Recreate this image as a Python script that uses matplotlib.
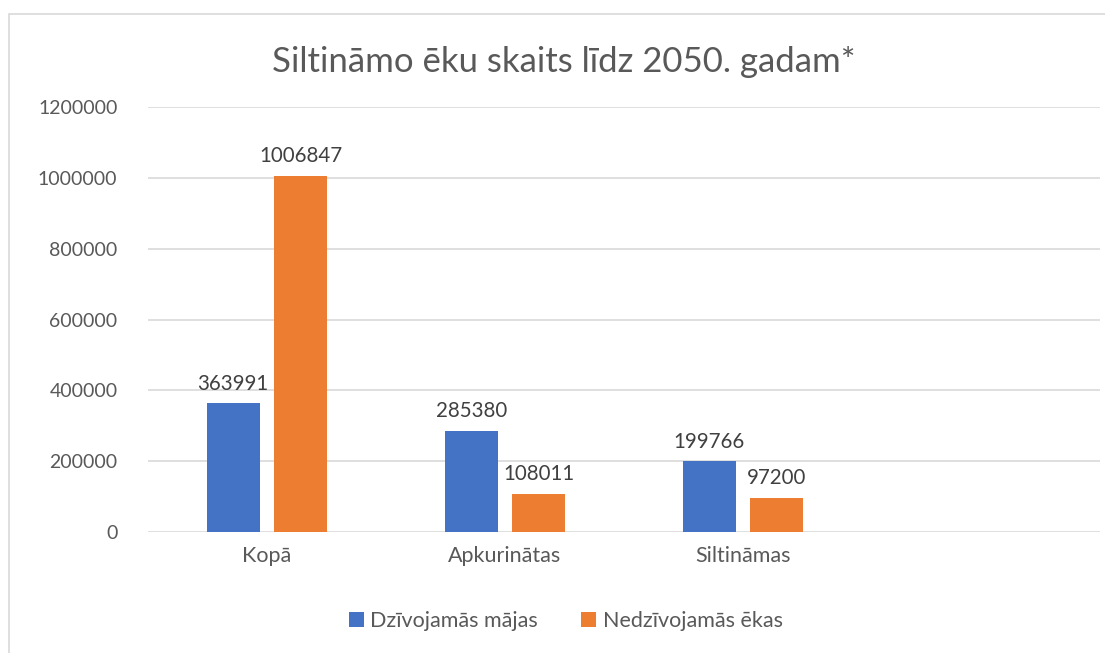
import numpy as np
import matplotlib.pyplot as plt
from matplotlib.patches import Rectangle

plt.rcParams['font.family'] = ['Lato', 'DejaVu Sans']

categories = ['Kopā', 'Apkurinātas', 'Siltināmas', '']
dzivojamas = [363991, 285380, 199766]
nedzivojamas = [1006847, 108011, 97200]
series_names = ['Dzīvojamās mājas', 'Nedzīvojamās ēkas']
yticks = [0, 200000, 400000, 600000, 800000, 1000000, 1200000]

blue = '#4472C4'
orange = '#ED7D31'
txt = '#595959'

fig = plt.figure(figsize=(11.05, 6.53), dpi=100)
ax = fig.add_axes([148/1105, 0.185, 952/1105, 0.651])

# light frame around the chart
fig.patches.append(Rectangle((9/1105, -0.1), 1.2, 1 - 14/653 + 0.1, transform=fig.transFigure,
                             fill=False, edgecolor='#d9d9d9', linewidth=1.2))

x = np.arange(len(dzivojamas))
w = 0.223
off = 0.142
b1 = ax.bar(x - off, dzivojamas, w, color=blue, label=series_names[0], zorder=3)
b2 = ax.bar(x + off, nedzivojamas, w, color=orange, label=series_names[1], zorder=3)

for bars in (b1, b2):
    for r in bars:
        ax.annotate(str(int(r.get_height())), (r.get_x() + r.get_width()/2, r.get_height()),
                    xytext=(0, 7), textcoords='offset points', ha='center', va='bottom',
                    fontsize=14.8, color='#404040')

ax.set_xlim(-0.5, 3.5)
ax.set_ylim(0, 1200000)
ax.set_yticks(yticks)
ax.set_yticklabels([str(v) for v in yticks])
ax.set_xticks(np.arange(len(categories)))
ax.set_xticklabels(categories)
ax.tick_params(axis='both', length=0, colors=txt)
ax.tick_params(axis='y', pad=22, labelsize=14)
ax.tick_params(axis='x', pad=10, labelsize=15.5)
ax.grid(axis='y', color='#d9d9d9', linewidth=1.2, zorder=0)
for s in ax.spines.values():
    s.set_visible(False)

fig.text(0.51, 0.905, 'Siltināmo ēku skaits līdz 2050. gadam*', ha='center', va='center',
         fontsize=25, color=txt)

fig.legend(handles=[b1, b2], loc='center', bbox_to_anchor=(0.512, 0.049), ncol=2, frameon=False,
           fontsize=15.5, labelcolor=txt, handlelength=0.7, handleheight=0.7,
           handletextpad=0.3, columnspacing=2.0)

fig.savefig('out.png', dpi=100)
